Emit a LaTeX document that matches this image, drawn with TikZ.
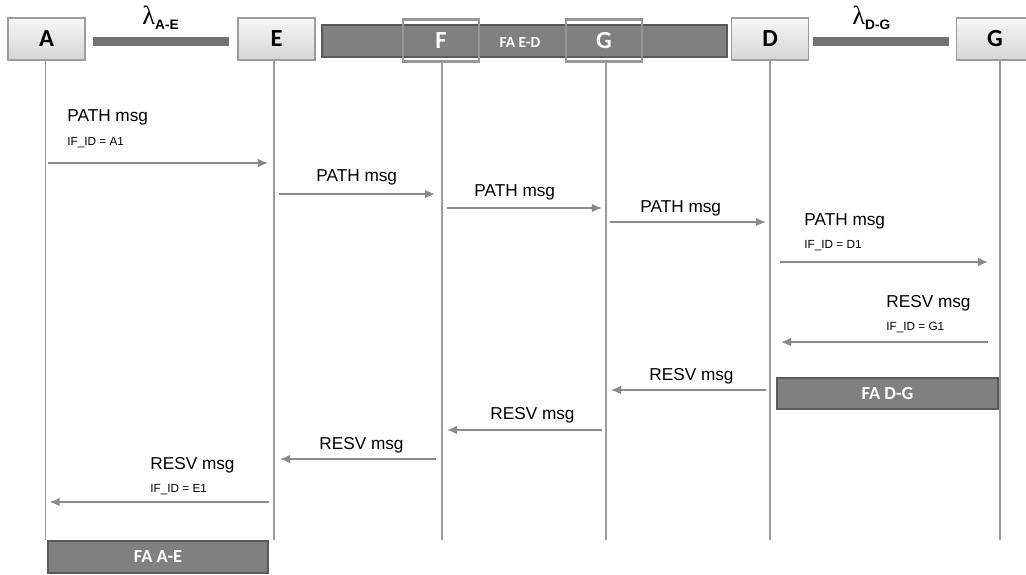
\documentclass[tikz,border=0pt]{standalone}
\usepackage{fontspec}
\setmainfont{Liberation Sans}
\setsansfont{Liberation Sans}
\newfontfamily\calfont{Carlito}
\newfontfamily\lamfont{Liberation Serif}
\usetikzlibrary{arrows.meta,calc}
\definecolor{hdrtop}{HTML}{F6F6F6}
\definecolor{hdrbot}{HTML}{D6D6D6}
\definecolor{hdrline}{HTML}{9C9C9C}
\definecolor{fafill}{HTML}{808080}
\definecolor{faline}{HTML}{5A5A5A}
\definecolor{lifegray}{HTML}{9A9A9A}
\definecolor{msggray}{HTML}{8A8A8A}
\definecolor{boxgray}{HTML}{979797}
\begin{document}
\begin{tikzpicture}[x=0.02cm, y=-0.02cm,
    hdr/.style={draw=hdrline, line width=0.9pt, top color=hdrtop, bottom color=hdrbot,
        minimum width=1.54cm, minimum height=0.84cm, inner sep=0pt,
        font=\calfont\bfseries\fontsize{14}{14}\selectfont},
    fabar/.style={draw=faline, line width=1.1pt, fill=fafill, inner sep=0pt,
        text=white, font=\calfont\bfseries\fontsize{10.5}{10.5}\selectfont},
    fabox/.style={draw=boxgray, line width=1.6pt, minimum width=1.52cm,
        minimum height=0.84cm, inner sep=0pt, text=white,
        font=\calfont\bfseries\fontsize{14}{14}\selectfont},
    lbar/.style={draw=fafill!90!black, line width=5pt},
    life/.style={draw=lifegray, line width=0.85pt},
    msg/.style={draw=msggray, line width=0.85pt, -{Latex[length=5.8pt,width=5pt]}},
    lbl/.style={anchor=base west, inner sep=0pt, font=\fontsize{9.8}{9.8}\selectfont},
    idlbl/.style={anchor=base west, inner sep=0pt, font=\fontsize{6.7}{6.7}\selectfont},
    lam/.style={anchor=base west, inner sep=0pt}]
    \useasboundingbox (0,0) rectangle (1026,574);

    \node[fabar, minimum width=8.1cm, minimum height=0.64cm] (faed) at (524.5,41) {};
    \node[text=white, font=\calfont\bfseries\fontsize{8.8}{8.8}\selectfont] (faedtxt) at (520,42) {FA E-D};
    \node[fabox] (F) at (441,40.5) {F};
    \node[fabox] (Gin) at (604,40.5) {G};

    \node[hdr] (A) at (46.5,39) {A};
    \node[hdr] (E) at (276.5,39) {E};
    \node[hdr] (D) at (770,39) {D};
    \node[hdr] (G) at (995,39) {G};

    \draw[lbar, shorten <=4pt, shorten >=4.5pt] ([yshift=-0.05cm]A.east) -- ([yshift=-0.05cm]E.west);
    \draw[lbar, shorten <=2.3pt, shorten >=4pt] ([yshift=-0.05cm]D.east) -- ([yshift=-0.05cm]G.west);
    \node[lam] (lamae) at (142,25) {{\lamfont\fontsize{15}{15}\selectfont λ}{\fontsize{7.8}{7.8}\selectfont\bfseries\raisebox{-2.8pt}{A-E}}};
    \node[lam] (lamdg) at (852,25) {{\lamfont\fontsize{15}{15}\selectfont λ}{\fontsize{7.8}{7.8}\selectfont\bfseries\raisebox{-2.8pt}{D-G}}};

    \coordinate (bot) at (0,540);
    \coordinate (lA) at (45.5,60);
    \coordinate (lE) at (274,60);
    \coordinate (lF) at (442,62);
    \coordinate (lGa) at (606,62);
    \coordinate (lD) at (770,60);
    \coordinate (lGb) at (1000,60);
    \foreach \l in {lA,lE,lF,lGa,lD,lGb}
        \draw[life] (\l) -- (\l |- bot);

    \foreach \from/\to/\y/\sa/\sb in {lA/lE/163/1.7/3.4, lE/lF/194/2.8/4, lF/lGa/208/2.8/2.3,
            lGa/lD/222/2.3/2.3, lD/lGb/262/5.7/6.8, lGb/lD/342/6.8/6.2, lD/lGa/390/2.3/2.8,
            lGa/lF/430/2.3/2.8, lF/lE/459/3.4/3.4, lE/lA/502/2.8/2.3}
        \draw[msg, shorten <=\sa pt, shorten >=\sb pt] (\from |- 0,\y) -- (\to |- 0,\y);

    \node[lbl] (p1) at (67,122) {PATH msg};
    \node[idlbl] (i1) at (67,146) {IF\_ID = A1};
    \node[lbl] (p2) at (316,181) {PATH msg};
    \node[lbl] (p3) at (474,196) {PATH msg};
    \node[lbl] (p4) at (640,212) {PATH msg};
    \node[lbl] (p5) at (804,225) {PATH msg};
    \node[idlbl] (i5) at (804,248) {IF\_ID = D1};
    \node[lbl] (r6) at (886,307) {RESV msg};
    \node[idlbl] (i6) at (886,330) {IF\_ID = G1};
    \node[lbl] (r7) at (649,380) {RESV msg};
    \node[lbl] (r8) at (490,419) {RESV msg};
    \node[lbl] (r9) at (319,449) {RESV msg};
    \node[lbl] (r10) at (150,469) {RESV msg};
    \node[idlbl] (i10) at (150,492) {IF\_ID = E1};

    \node[fabar, minimum width=4.42cm, minimum height=0.62cm] (fadg) at (887.5,393.5) {FA D-G};
    \node[fabar, minimum width=4.4cm, minimum height=0.64cm] (faae) at (158,557) {FA A-E};
\end{tikzpicture}
\end{document}
